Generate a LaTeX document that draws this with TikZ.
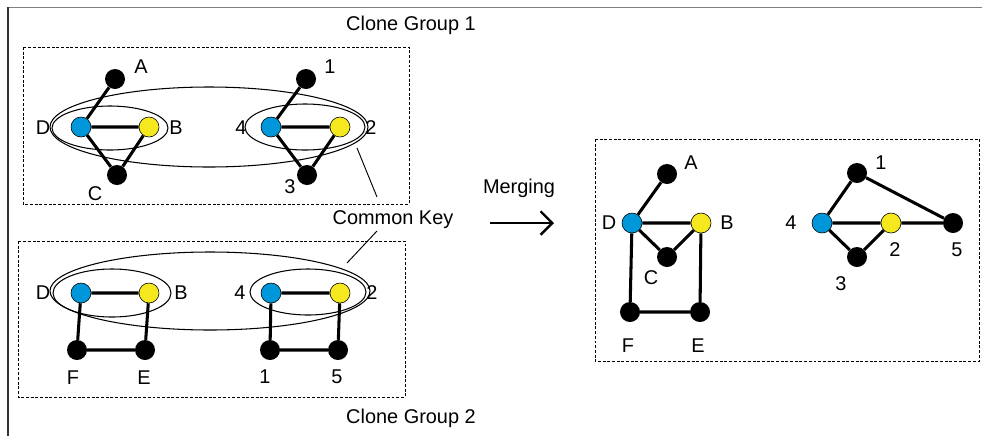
\documentclass[tikz,border=0pt]{standalone}
\usepackage{fontspec}
\setmainfont{Liberation Sans}
\usetikzlibrary{arrows.meta}
\definecolor{keyBlue}{RGB}{0,150,218}
\definecolor{keyYellow}{RGB}{246,232,30}

\begin{document}
\begin{tikzpicture}[x=0.03cm, y=-0.03cm,
  every node/.style={font=\fontsize{17}{20}\selectfont},
  vtx/.style={circle, fill=black, minimum size=0.6cm, inner sep=0pt},
  kd/.style={vtx, draw=black, line width=0.5pt, fill=keyBlue},
  kb/.style={vtx, draw=black, line width=0.5pt, fill=keyYellow},
  edge/.style={line width=2.6pt},
  group/.style={draw, line width=0.8pt, dash pattern=on 2.5pt off 1.5pt},
  ring/.style={line width=0.9pt}]
\useasboundingbox (0,0) rectangle (982,436);

% Frame
\draw[gray, line width=1.6pt] (8,7.5) -- (982,7.5);
\draw[black!80, line width=1.3pt] (8,7) -- (8,436);

% Clone group 1
\draw[group] (23,47) rectangle (409,204);
\node (cg1) at (411,25) {Clone Group 1};
\node[vtx] (tA) at (115,79) {};
\node[kd] (tD) at (81,127) {};
\node[kb] (tB) at (149,127) {};
\node[vtx] (tC) at (117,175) {};
\node[vtx] (t1) at (306,79) {};
\node[kd] (t4) at (271,127) {};
\node[kb] (t2) at (340,127) {};
\node[vtx] (t3) at (307,175) {};
\node (tAl) at (141,67) {A};
\node (tDl) at (43,128) {D};
\node (tBl) at (176,128) {B};
\node (tCl) at (95,194) {C};
\node (t1l) at (330,67) {1};
\node (t4l) at (241,128) {4};
\node (t2l) at (371,128) {2};
\node (t3l) at (290,187) {3};
\draw[edge] (tA) -- (tD) -- (tB) -- (tC) -- (tD);
\draw[edge] (t1) -- (t4) -- (t2) -- (t3) -- (t4);
\draw[ring] (110,128) ellipse [x radius=58, y radius=22];
\draw[ring] (305,127) ellipse [x radius=60, y radius=23];
\draw[ring] (209,127) ellipse [x radius=159, y radius=40];

% Clone group 2
\draw[group] (18,241) rectangle (405,397);
\node (cg2) at (411,418) {Clone Group 2};
\node[kd] (bD) at (81,293) {};
\node[kb] (bB) at (149,293) {};
\node[vtx] (bF) at (77,350) {};
\node[vtx] (bE) at (145,350) {};
\node[kd] (b4) at (271,293) {};
\node[kb] (b2) at (340,293) {};
\node[vtx] (b1) at (270,350) {};
\node[vtx] (b5) at (338,350) {};
\node (bDl) at (43,293) {D};
\node (bBl) at (181,293) {B};
\node (bFl) at (73,378) {F};
\node (bEl) at (144,378) {E};
\node (b4l) at (240,293) {4};
\node (b2l) at (372,293) {2};
\node (b1l) at (265,377) {1};
\node (b5l) at (337,377) {5};
\draw[edge] (bD) -- (bB) -- (bE) -- (bF) -- (bD);
\draw[edge] (b4) -- (b2) -- (b5) -- (b1) -- (b4);
\draw[ring] (112,293) ellipse [x radius=59, y radius=24];
\draw[ring] (308,292) ellipse [x radius=58, y radius=23];
\draw[ring] (210,291) ellipse [x radius=160, y radius=39];

% Common key pointers
\node (key) at (393,220) {Common Key};
\coordinate (keyTop) at (357,148);
\coordinate (keyBot) at (347,263);
\draw[line width=0.8pt] (keyTop) -- (377,197);
\draw[line width=0.8pt] (377,231) -- (keyBot);

% Merging
\node (merge) at (519,188) {Merging};
\coordinate (mergeL) at (490,223);
\coordinate (mergeR) at (554,223);
\draw[line width=2pt, -{Straight Barb[length=10pt, width=20pt]}] (mergeL) -- (mergeR);

% Merged graph
\draw[group] (595,139) rectangle (979,361);
\node[vtx] (mA) at (667,174) {};
\node[kd] (mD) at (632,223) {};
\node[kb] (mB) at (701,223) {};
\node[vtx] (mC) at (667,257) {};
\node[vtx] (mF) at (630,312) {};
\node[vtx] (mE) at (700,312) {};
\node[vtx] (m1) at (857,173) {};
\node[kd] (m4) at (822,223) {};
\node[kb] (m2) at (891,223) {};
\node[vtx] (m5) at (953,223) {};
\node[vtx] (m3) at (857,257) {};
\node (mAl) at (691,163) {A};
\node (mDl) at (609,223) {D};
\node (mBl) at (727,223) {B};
\node (mCl) at (651,278) {C};
\node (mFl) at (628,346) {F};
\node (mEl) at (698,346) {E};
\node (m1l) at (881,163) {1};
\node (m4l) at (791,223) {4};
\node (m2l) at (895,250) {2};
\node (m5l) at (957,250) {5};
\node (m3l) at (841,284) {3};
\draw[edge] (mA) -- (mD) -- (mB) -- (mC) -- (mD);
\draw[edge] (mD) -- (mF) -- (mE) -- (mB);
\draw[edge] (m1) -- (m4) -- (m2) -- (m5) -- (m1);
\draw[edge] (m4) -- (m3) -- (m2);
\end{tikzpicture}
\end{document}
